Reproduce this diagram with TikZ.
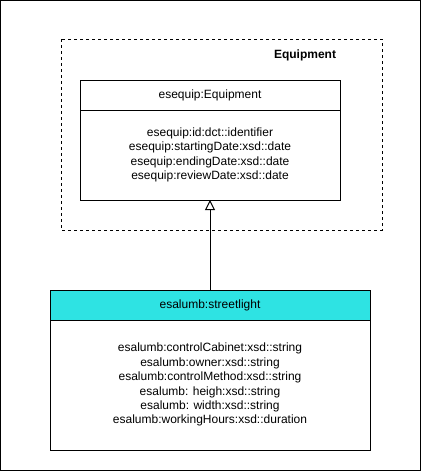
\documentclass[tikz,border=0pt]{standalone}
\usepackage{fontspec}
\setmainfont{Liberation Sans}
\usetikzlibrary{positioning,arrows.meta}

\definecolor{streetcyan}{HTML}{2EE3E3}

\tikzset{
    classhead/.style={draw, line width=1pt, outer sep=0pt, inner sep=0pt,
        minimum height=30pt, font=\fontsize{12}{14.4}\selectfont},
    classbody/.style={draw, line width=1pt, outer sep=0pt, inner sep=0pt,
        font=\fontsize{12}{14.4}\selectfont},
}

\begin{document}
\begin{tikzpicture}[x=1pt, y=-1pt]
    \useasboundingbox (0,0) rectangle (421,471);
    \draw[line width=1pt] (0.5,0.5) rectangle (420.5,470.5);

    % package frame
    \draw[line width=1pt, dash pattern=on 3pt off 3pt] (61,39) rectangle (382,230);
    \node[font=\fontsize{12}{14.4}\selectfont\bfseries] (pkglabel) at (305,55) {Equipment};

    \node[classhead, minimum width=260pt] (eqhead) at (210,95) {esequip:Equipment};
    \node[classbody, minimum width=260pt, minimum height=90pt, below=0pt of eqhead] (eqbody) {
        \begin{tabular}{c}
            esequip:id:dct::identifier \\
            esequip:startingDate:xsd::date \\
            esequip:endingDate:xsd::date \\
            esequip:reviewDate:xsd::date
        \end{tabular}
    };

    \node[classhead, fill=streetcyan, minimum width=320pt] (slhead) at (210,305) {esalumb:streetlight};
    \node[classbody, minimum width=320pt, minimum height=130pt, below=0pt of slhead] (slbody) {
        \begin{tabular}{c}
            esalumb:controlCabinet:xsd::string \\
            esalumb:owner:xsd::string \\
            esalumb:controlMethod:xsd::string \\
            esalumb: heigh:xsd::string \\
            esalumb: width:xsd::string \\
            esalumb:workingHours:xsd::duration
        \end{tabular}
    };

    \draw[line width=1pt, -{Triangle[open, length=10pt, width=10pt]}] (slhead.north) -- (eqbody.south);
\end{tikzpicture}
\end{document}
